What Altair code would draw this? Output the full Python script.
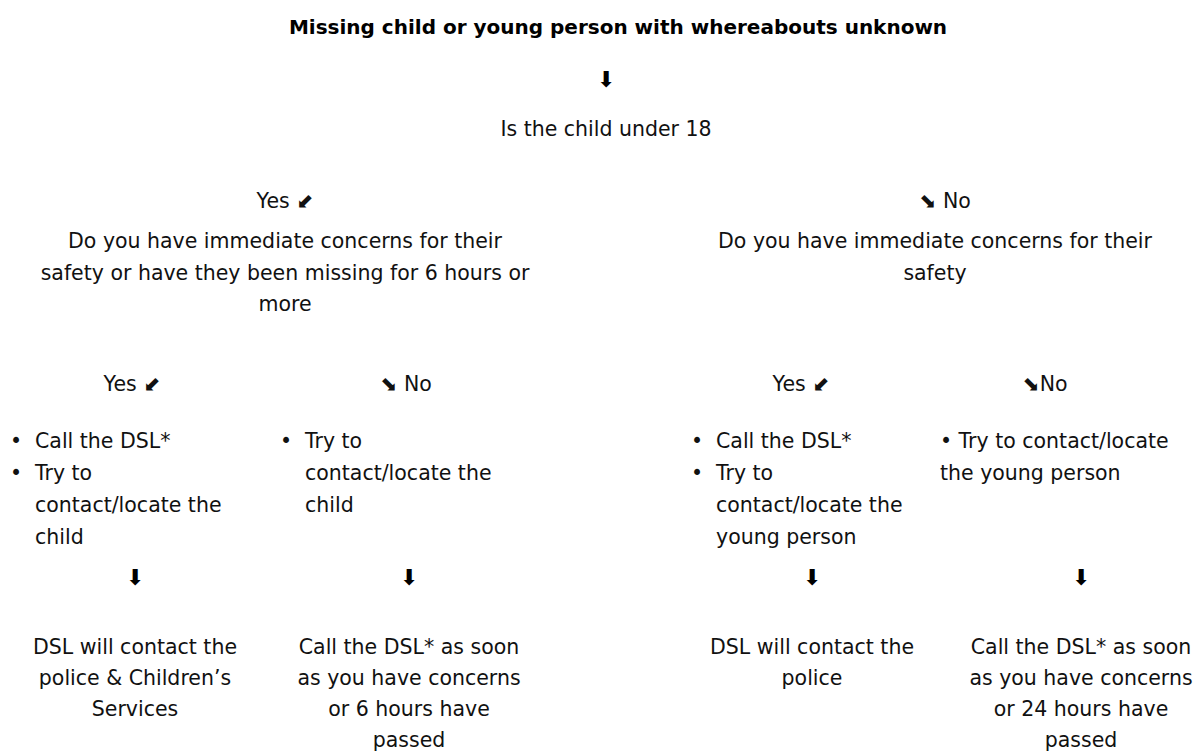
import altair as alt
import pandas as pd

# ---- text content ----
title = "Missing child or young person with whereabouts unknown"
question1 = "Is the child under 18"
yes_label = "Yes ⬋"
no_label = "⬊ No"
no_label_tight = "⬊No"
left_question = ["Do you have immediate concerns for their",
                 "safety or have they been missing for 6 hours or",
                 "more"]
right_question = ["Do you have immediate concerns for their", "safety"]
ll_bullets = [["Call the DSL*"], ["Try to", "contact/locate the", "child"]]
lr_bullets = [["Try to", "contact/locate the", "child"]]
rl_bullets = [["Call the DSL*"], ["Try to", "contact/locate the", "young person"]]
rr_lines = ["• Try to contact/locate", "the young person"]
outcomes = [
    ["DSL will contact the", "police & Children’s", "Services"],
    ["Call the DSL* as soon", "as you have concerns", "or 6 hours have", "passed"],
    ["DSL will contact the", "police"],
    ["Call the DSL* as soon", "as you have concerns", "or 24 hours have", "passed"],
]
down_arrow = "⬇"

# ---- layout (page pixel coordinates) ----
LH = 31.5
rows = []

def add(text, x, y, kind):
    rows.append({"text": text, "x": x, "y": y, "kind": kind})

add(title, 618, 28, "bold")
add(down_arrow, 606, 80, "arrow")
add(question1, 606, 130, "center")
add(yes_label, 285, 202, "center")
add(no_label, 945, 202, "center")
for i, t in enumerate(left_question):
    add(t, 285, 242 + i * LH, "center")
for i, t in enumerate(right_question):
    add(t, 935, 242 + i * LH, "center")
add(yes_label, 132, 385, "center")
add(no_label, 406, 385, "center")
add(yes_label, 801, 385, "center")
add(no_label_tight, 1045, 385, "center")

def bullets(groups, bx, tx, y0):
    line = 0
    for g in groups:
        add("•", bx, y0 + line * 32, "center")
        for t in g:
            add(t, tx, y0 + line * 32, "left")
            line += 1

bullets(ll_bullets, 16, 35, 442)
bullets(lr_bullets, 286, 305, 442)
bullets(rl_bullets, 697, 716, 442)
for i, t in enumerate(rr_lines):
    add(t, 940, 442 + i * 32, "left")

out_x = [135, 409, 812, 1081]
for cx in out_x:
    add(down_arrow, cx, 578, "arrow")
for cx, lines in zip(out_x, outcomes):
    for i, t in enumerate(lines):
        add(t, cx, 648 + i * 31, "center")

df = pd.DataFrame(rows)

W, H = 1187, 743
X = alt.X("x:Q", scale=alt.Scale(domain=[8, 8 + W]), axis=None)
Y = alt.Y("y:Q", scale=alt.Scale(domain=[8, 8 + H], reverse=True), axis=None)
FONT = "DejaVu Sans"
FS = 20.5

base = alt.Chart(df)
center = base.transform_filter("datum.kind == 'center'").mark_text(
    align="center", baseline="middle", font=FONT, fontSize=FS, color="#111111"
).encode(x=X, y=Y, text="text:N")
left = base.transform_filter("datum.kind == 'left'").mark_text(
    align="left", baseline="middle", font=FONT, fontSize=FS, color="#111111"
).encode(x=X, y=Y, text="text:N")
bold = base.transform_filter("datum.kind == 'bold'").mark_text(
    align="center", baseline="middle", font=FONT, fontSize=20, fontWeight="bold", color="#000000"
).encode(x=X, y=Y, text="text:N")
arrows = base.transform_filter("datum.kind == 'arrow'").mark_text(
    align="center", baseline="middle", font="DejaVu Sans", fontSize=22, color="#000000"
).encode(x=X, y=Y, text="text:N")

chart = alt.layer(center, left, bold, arrows).properties(
    width=W, height=H, padding=0, autosize="none"
).configure_view(stroke=None)

chart.save("out.html", embed_options={"renderer": "svg", "actions": False})
